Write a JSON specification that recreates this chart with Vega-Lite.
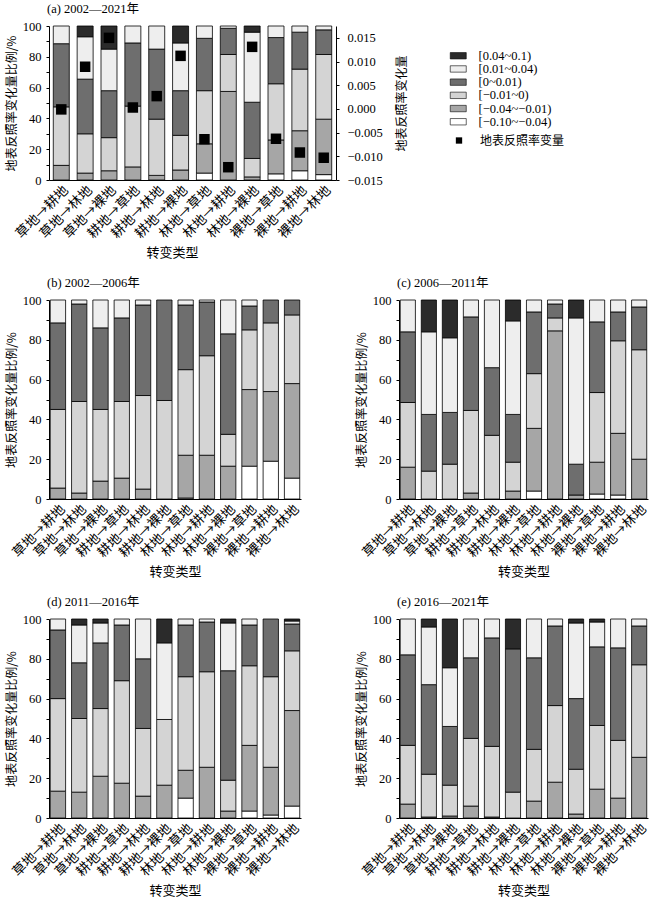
{
"$schema":"https://vega.github.io/schema/vega-lite/v6.json",
"padding":{"left":5,"top":2,"right":0,"bottom":0},
"config":{
 "view":{"stroke":null},
 "font":"Liberation Serif, Noto Sans CJK SC",
 "title":{"anchor":"start","frame":"group","fontSize":12.5,"fontWeight":"normal","font":"Liberation Serif, Noto Sans CJK SC","offset":5,"dx":-2,"color":"black"},
 "axis":{"domainColor":"black","tickColor":"black","labelColor":"black","titleColor":"black","labelFont":"Liberation Serif","labelFontSize":12.5,"titleFont":"Noto Sans CJK SC","titleFontSize":12,"titleFontWeight":"normal","grid":false,"tickSize":3,"labelPadding":5},
 "axisX":{"labelAngle":-45,"labelFont":"Noto Sans CJK SC","labelFontSize":13.5,"ticks":false,"titleFontSize":13,"titlePadding":6,"labelPadding":3},
 "legend":{"labelColor":"black"}
},
"resolve":{"scale":{"fill":"independent"}},
"spacing":16,
"datasets":{
"a":[
{"t":"草地→耕地","c":"[−0.04~−0.01)","k":2,"v":9.5},{"t":"草地→耕地","c":"[−0.01~0)","k":3,"v":38},{"t":"草地→耕地","c":"[0~0.01)","k":4,"v":41},{"t":"草地→耕地","c":"[0.01~0.04)","k":5,"v":11.5},
{"t":"草地→林地","c":"[−0.04~−0.01)","k":2,"v":4.5},{"t":"草地→林地","c":"[−0.01~0)","k":3,"v":25.5},{"t":"草地→林地","c":"[0~0.01)","k":4,"v":35.5},{"t":"草地→林地","c":"[0.01~0.04)","k":5,"v":27.5},{"t":"草地→林地","c":"[0.04~0.1)","k":6,"v":7},
{"t":"草地→裸地","c":"[−0.04~−0.01)","k":2,"v":6},{"t":"草地→裸地","c":"[−0.01~0)","k":3,"v":21.5},{"t":"草地→裸地","c":"[0~0.01)","k":4,"v":30.5},{"t":"草地→裸地","c":"[0.01~0.04)","k":5,"v":27},{"t":"草地→裸地","c":"[0.04~0.1)","k":6,"v":15},
{"t":"耕地→草地","c":"[−0.04~−0.01)","k":2,"v":8.5},{"t":"耕地→草地","c":"[−0.01~0)","k":3,"v":39.5},{"t":"耕地→草地","c":"[0~0.01)","k":4,"v":41},{"t":"耕地→草地","c":"[0.01~0.04)","k":5,"v":11},
{"t":"耕地→林地","c":"[−0.04~−0.01)","k":2,"v":3},{"t":"耕地→林地","c":"[−0.01~0)","k":3,"v":36.5},{"t":"耕地→林地","c":"[0~0.01)","k":4,"v":45.5},{"t":"耕地→林地","c":"[0.01~0.04)","k":5,"v":15},
{"t":"耕地→裸地","c":"[−0.04~−0.01)","k":2,"v":6.5},{"t":"耕地→裸地","c":"[−0.01~0)","k":3,"v":22.5},{"t":"耕地→裸地","c":"[0~0.01)","k":4,"v":29},{"t":"耕地→裸地","c":"[0.01~0.04)","k":5,"v":31},{"t":"耕地→裸地","c":"[0.04~0.1)","k":6,"v":11},
{"t":"林地→草地","c":"[−0.10~−0.04)","k":1,"v":4.5},{"t":"林地→草地","c":"[−0.04~−0.01)","k":2,"v":19},{"t":"林地→草地","c":"[−0.01~0)","k":3,"v":34.5},{"t":"林地→草地","c":"[0~0.01)","k":4,"v":34},{"t":"林地→草地","c":"[0.01~0.04)","k":5,"v":8},
{"t":"林地→耕地","c":"[−0.04~−0.01)","k":2,"v":57.5},{"t":"林地→耕地","c":"[−0.01~0)","k":3,"v":24},{"t":"林地→耕地","c":"[0~0.01)","k":4,"v":17},{"t":"林地→耕地","c":"[0.01~0.04)","k":5,"v":1.5},
{"t":"林地→裸地","c":"[−0.04~−0.01)","k":2,"v":2},{"t":"林地→裸地","c":"[−0.01~0)","k":3,"v":12},{"t":"林地→裸地","c":"[0~0.01)","k":4,"v":36.5},{"t":"林地→裸地","c":"[0.01~0.04)","k":5,"v":45.5},{"t":"林地→裸地","c":"[0.04~0.1)","k":6,"v":4},
{"t":"裸地→草地","c":"[−0.10~−0.04)","k":1,"v":4},{"t":"裸地→草地","c":"[−0.04~−0.01)","k":2,"v":22},{"t":"裸地→草地","c":"[−0.01~0)","k":3,"v":36.5},{"t":"裸地→草地","c":"[0~0.01)","k":4,"v":30},{"t":"裸地→草地","c":"[0.01~0.04)","k":5,"v":7.5},
{"t":"裸地→耕地","c":"[−0.10~−0.04)","k":1,"v":6},{"t":"裸地→耕地","c":"[−0.04~−0.01)","k":2,"v":26},{"t":"裸地→耕地","c":"[−0.01~0)","k":3,"v":40},{"t":"裸地→耕地","c":"[0~0.01)","k":4,"v":24},{"t":"裸地→耕地","c":"[0.01~0.04)","k":5,"v":4},
{"t":"裸地→林地","c":"[−0.10~−0.04)","k":1,"v":3.5},{"t":"裸地→林地","c":"[−0.04~−0.01)","k":2,"v":36},{"t":"裸地→林地","c":"[−0.01~0)","k":3,"v":42},{"t":"裸地→林地","c":"[0~0.01)","k":4,"v":16},{"t":"裸地→林地","c":"[0.01~0.04)","k":5,"v":2.5}
],
"b":[
{"t":"草地→耕地","c":"[−0.04~−0.01)","k":2,"v":5.5},{"t":"草地→耕地","c":"[−0.01~0)","k":3,"v":39.5},{"t":"草地→耕地","c":"[0~0.01)","k":4,"v":43.5},{"t":"草地→耕地","c":"[0.01~0.04)","k":5,"v":11.5},
{"t":"草地→林地","c":"[−0.04~−0.01)","k":2,"v":3},{"t":"草地→林地","c":"[−0.01~0)","k":3,"v":46},{"t":"草地→林地","c":"[0~0.01)","k":4,"v":49},{"t":"草地→林地","c":"[0.01~0.04)","k":5,"v":2},
{"t":"草地→裸地","c":"[−0.04~−0.01)","k":2,"v":9},{"t":"草地→裸地","c":"[−0.01~0)","k":3,"v":36},{"t":"草地→裸地","c":"[0~0.01)","k":4,"v":41},{"t":"草地→裸地","c":"[0.01~0.04)","k":5,"v":14},
{"t":"耕地→草地","c":"[−0.04~−0.01)","k":2,"v":10.5},{"t":"耕地→草地","c":"[−0.01~0)","k":3,"v":38.5},{"t":"耕地→草地","c":"[0~0.01)","k":4,"v":42},{"t":"耕地→草地","c":"[0.01~0.04)","k":5,"v":9},
{"t":"耕地→林地","c":"[−0.04~−0.01)","k":2,"v":5},{"t":"耕地→林地","c":"[−0.01~0)","k":3,"v":47},{"t":"耕地→林地","c":"[0~0.01)","k":4,"v":45.5},{"t":"耕地→林地","c":"[0.01~0.04)","k":5,"v":2.5},
{"t":"耕地→裸地","c":"[−0.01~0)","k":3,"v":49.5},{"t":"耕地→裸地","c":"[0~0.01)","k":4,"v":50.5},
{"t":"林地→草地","c":"[−0.10~−0.04)","k":1,"v":0.5},{"t":"林地→草地","c":"[−0.04~−0.01)","k":2,"v":21.5},{"t":"林地→草地","c":"[−0.01~0)","k":3,"v":43},{"t":"林地→草地","c":"[0~0.01)","k":4,"v":32.5},{"t":"林地→草地","c":"[0.01~0.04)","k":5,"v":2.5},
{"t":"林地→耕地","c":"[−0.04~−0.01)","k":2,"v":22},{"t":"林地→耕地","c":"[−0.01~0)","k":3,"v":50},{"t":"林地→耕地","c":"[0~0.01)","k":4,"v":27},{"t":"林地→耕地","c":"[0.01~0.04)","k":5,"v":1},
{"t":"林地→裸地","c":"[−0.04~−0.01)","k":2,"v":16.5},{"t":"林地→裸地","c":"[−0.01~0)","k":3,"v":16},{"t":"林地→裸地","c":"[0~0.01)","k":4,"v":50.5},{"t":"林地→裸地","c":"[0.01~0.04)","k":5,"v":17},
{"t":"裸地→草地","c":"[−0.10~−0.04)","k":1,"v":16.5},{"t":"裸地→草地","c":"[−0.04~−0.01)","k":2,"v":38.5},{"t":"裸地→草地","c":"[−0.01~0)","k":3,"v":30},{"t":"裸地→草地","c":"[0~0.01)","k":4,"v":12},{"t":"裸地→草地","c":"[0.01~0.04)","k":5,"v":3},
{"t":"裸地→耕地","c":"[−0.10~−0.04)","k":1,"v":19},{"t":"裸地→耕地","c":"[−0.04~−0.01)","k":2,"v":35},{"t":"裸地→耕地","c":"[−0.01~0)","k":3,"v":34.5},{"t":"裸地→耕地","c":"[0~0.01)","k":4,"v":11.5},
{"t":"裸地→林地","c":"[−0.10~−0.04)","k":1,"v":10.5},{"t":"裸地→林地","c":"[−0.04~−0.01)","k":2,"v":47.5},{"t":"裸地→林地","c":"[−0.01~0)","k":3,"v":34.5},{"t":"裸地→林地","c":"[0~0.01)","k":4,"v":7.5}
],
"c":[
{"t":"草地→耕地","c":"[−0.04~−0.01)","k":2,"v":16},{"t":"草地→耕地","c":"[−0.01~0)","k":3,"v":32.5},{"t":"草地→耕地","c":"[0~0.01)","k":4,"v":35.5},{"t":"草地→耕地","c":"[0.01~0.04)","k":5,"v":16},
{"t":"草地→林地","c":"[−0.01~0)","k":3,"v":14},{"t":"草地→林地","c":"[0~0.01)","k":4,"v":28.5},{"t":"草地→林地","c":"[0.01~0.04)","k":5,"v":41.5},{"t":"草地→林地","c":"[0.04~0.1)","k":6,"v":16},
{"t":"草地→裸地","c":"[−0.01~0)","k":3,"v":17.5},{"t":"草地→裸地","c":"[0~0.01)","k":4,"v":26},{"t":"草地→裸地","c":"[0.01~0.04)","k":5,"v":37.5},{"t":"草地→裸地","c":"[0.04~0.1)","k":6,"v":19},
{"t":"耕地→草地","c":"[−0.04~−0.01)","k":2,"v":3},{"t":"耕地→草地","c":"[−0.01~0)","k":3,"v":41.5},{"t":"耕地→草地","c":"[0~0.01)","k":4,"v":47},{"t":"耕地→草地","c":"[0.01~0.04)","k":5,"v":8.5},
{"t":"耕地→林地","c":"[−0.01~0)","k":3,"v":32},{"t":"耕地→林地","c":"[0~0.01)","k":4,"v":34},{"t":"耕地→林地","c":"[0.01~0.04)","k":5,"v":34},
{"t":"耕地→裸地","c":"[−0.04~−0.01)","k":2,"v":4},{"t":"耕地→裸地","c":"[−0.01~0)","k":3,"v":14.5},{"t":"耕地→裸地","c":"[0~0.01)","k":4,"v":24},{"t":"耕地→裸地","c":"[0.01~0.04)","k":5,"v":47},{"t":"耕地→裸地","c":"[0.04~0.1)","k":6,"v":10.5},
{"t":"林地→草地","c":"[−0.10~−0.04)","k":1,"v":4},{"t":"林地→草地","c":"[−0.04~−0.01)","k":2,"v":31.5},{"t":"林地→草地","c":"[−0.01~0)","k":3,"v":27.5},{"t":"林地→草地","c":"[0~0.01)","k":4,"v":31},{"t":"林地→草地","c":"[0.01~0.04)","k":5,"v":6},
{"t":"林地→耕地","c":"[−0.04~−0.01)","k":2,"v":84.5},{"t":"林地→耕地","c":"[−0.01~0)","k":3,"v":6.5},{"t":"林地→耕地","c":"[0~0.01)","k":4,"v":7},{"t":"林地→耕地","c":"[0.01~0.04)","k":5,"v":2},
{"t":"林地→裸地","c":"[−0.04~−0.01)","k":2,"v":2},{"t":"林地→裸地","c":"[0~0.01)","k":4,"v":15.5},{"t":"林地→裸地","c":"[0.01~0.04)","k":5,"v":73.5},{"t":"林地→裸地","c":"[0.04~0.1)","k":6,"v":9},
{"t":"裸地→草地","c":"[−0.10~−0.04)","k":1,"v":2.5},{"t":"裸地→草地","c":"[−0.04~−0.01)","k":2,"v":16},{"t":"裸地→草地","c":"[−0.01~0)","k":3,"v":35},{"t":"裸地→草地","c":"[0~0.01)","k":4,"v":35.5},{"t":"裸地→草地","c":"[0.01~0.04)","k":5,"v":11},
{"t":"裸地→耕地","c":"[−0.10~−0.04)","k":1,"v":2},{"t":"裸地→耕地","c":"[−0.04~−0.01)","k":2,"v":31},{"t":"裸地→耕地","c":"[−0.01~0)","k":3,"v":46.5},{"t":"裸地→耕地","c":"[0~0.01)","k":4,"v":14.5},{"t":"裸地→耕地","c":"[0.01~0.04)","k":5,"v":6},
{"t":"裸地→林地","c":"[−0.04~−0.01)","k":2,"v":20},{"t":"裸地→林地","c":"[−0.01~0)","k":3,"v":55},{"t":"裸地→林地","c":"[0~0.01)","k":4,"v":21.5},{"t":"裸地→林地","c":"[0.01~0.04)","k":5,"v":3.5}
],
"d":[
{"t":"草地→耕地","c":"[−0.04~−0.01)","k":2,"v":13.5},{"t":"草地→耕地","c":"[−0.01~0)","k":3,"v":46.5},{"t":"草地→耕地","c":"[0~0.01)","k":4,"v":34.5},{"t":"草地→耕地","c":"[0.01~0.04)","k":5,"v":5.5},
{"t":"草地→林地","c":"[−0.04~−0.01)","k":2,"v":13},{"t":"草地→林地","c":"[−0.01~0)","k":3,"v":37},{"t":"草地→林地","c":"[0~0.01)","k":4,"v":28},{"t":"草地→林地","c":"[0.01~0.04)","k":5,"v":19},{"t":"草地→林地","c":"[0.04~0.1)","k":6,"v":3},
{"t":"草地→裸地","c":"[−0.04~−0.01)","k":2,"v":21},{"t":"草地→裸地","c":"[−0.01~0)","k":3,"v":34},{"t":"草地→裸地","c":"[0~0.01)","k":4,"v":33},{"t":"草地→裸地","c":"[0.01~0.04)","k":5,"v":10},{"t":"草地→裸地","c":"[0.04~0.1)","k":6,"v":2},
{"t":"耕地→草地","c":"[−0.04~−0.01)","k":2,"v":17.5},{"t":"耕地→草地","c":"[−0.01~0)","k":3,"v":51.5},{"t":"耕地→草地","c":"[0~0.01)","k":4,"v":28},{"t":"耕地→草地","c":"[0.01~0.04)","k":5,"v":3},
{"t":"耕地→林地","c":"[−0.04~−0.01)","k":2,"v":11},{"t":"耕地→林地","c":"[−0.01~0)","k":3,"v":34},{"t":"耕地→林地","c":"[0~0.01)","k":4,"v":35},{"t":"耕地→林地","c":"[0.01~0.04)","k":5,"v":20},
{"t":"耕地→裸地","c":"[−0.04~−0.01)","k":2,"v":16.5},{"t":"耕地→裸地","c":"[−0.01~0)","k":3,"v":33},{"t":"耕地→裸地","c":"[0.01~0.04)","k":5,"v":38.5},{"t":"耕地→裸地","c":"[0.04~0.1)","k":6,"v":12},
{"t":"林地→草地","c":"[−0.10~−0.04)","k":1,"v":10},{"t":"林地→草地","c":"[−0.04~−0.01)","k":2,"v":14},{"t":"林地→草地","c":"[−0.01~0)","k":3,"v":47},{"t":"林地→草地","c":"[0~0.01)","k":4,"v":26},{"t":"林地→草地","c":"[0.01~0.04)","k":5,"v":3},
{"t":"林地→耕地","c":"[−0.04~−0.01)","k":2,"v":25.5},{"t":"林地→耕地","c":"[−0.01~0)","k":3,"v":48},{"t":"林地→耕地","c":"[0~0.01)","k":4,"v":25},{"t":"林地→耕地","c":"[0.01~0.04)","k":5,"v":1.5},
{"t":"林地→裸地","c":"[−0.04~−0.01)","k":2,"v":3.5},{"t":"林地→裸地","c":"[−0.01~0)","k":3,"v":15.5},{"t":"林地→裸地","c":"[0~0.01)","k":4,"v":55},{"t":"林地→裸地","c":"[0.01~0.04)","k":5,"v":24},{"t":"林地→裸地","c":"[0.04~0.1)","k":6,"v":2},
{"t":"裸地→草地","c":"[−0.10~−0.04)","k":1,"v":3.5},{"t":"裸地→草地","c":"[−0.04~−0.01)","k":2,"v":33},{"t":"裸地→草地","c":"[−0.01~0)","k":3,"v":40},{"t":"裸地→草地","c":"[0~0.01)","k":4,"v":20.5},{"t":"裸地→草地","c":"[0.01~0.04)","k":5,"v":3},
{"t":"裸地→耕地","c":"[−0.10~−0.04)","k":1,"v":1.5},{"t":"裸地→耕地","c":"[−0.04~−0.01)","k":2,"v":24},{"t":"裸地→耕地","c":"[−0.01~0)","k":3,"v":45.5},{"t":"裸地→耕地","c":"[0~0.01)","k":4,"v":29},
{"t":"裸地→林地","c":"[−0.10~−0.04)","k":1,"v":6},{"t":"裸地→林地","c":"[−0.04~−0.01)","k":2,"v":48},{"t":"裸地→林地","c":"[−0.01~0)","k":3,"v":30},{"t":"裸地→林地","c":"[0~0.01)","k":4,"v":13.5},{"t":"裸地→林地","c":"[0.01~0.04)","k":5,"v":1.5},{"t":"裸地→林地","c":"[0.04~0.1)","k":6,"v":1}
],
"e":[
{"t":"草地→耕地","c":"[−0.04~−0.01)","k":2,"v":7},{"t":"草地→耕地","c":"[−0.01~0)","k":3,"v":29.5},{"t":"草地→耕地","c":"[0~0.01)","k":4,"v":45.5},{"t":"草地→耕地","c":"[0.01~0.04)","k":5,"v":18},
{"t":"草地→林地","c":"[−0.04~−0.01)","k":2,"v":0.5},{"t":"草地→林地","c":"[−0.01~0)","k":3,"v":21.5},{"t":"草地→林地","c":"[0~0.01)","k":4,"v":45},{"t":"草地→林地","c":"[0.01~0.04)","k":5,"v":29},{"t":"草地→林地","c":"[0.04~0.1)","k":6,"v":4},
{"t":"草地→裸地","c":"[−0.04~−0.01)","k":2,"v":1},{"t":"草地→裸地","c":"[−0.01~0)","k":3,"v":15.5},{"t":"草地→裸地","c":"[0~0.01)","k":4,"v":29.5},{"t":"草地→裸地","c":"[0.01~0.04)","k":5,"v":29.5},{"t":"草地→裸地","c":"[0.04~0.1)","k":6,"v":24.5},
{"t":"耕地→草地","c":"[−0.04~−0.01)","k":2,"v":6},{"t":"耕地→草地","c":"[−0.01~0)","k":3,"v":34},{"t":"耕地→草地","c":"[0~0.01)","k":4,"v":40.5},{"t":"耕地→草地","c":"[0.01~0.04)","k":5,"v":19.5},
{"t":"耕地→林地","c":"[−0.04~−0.01)","k":2,"v":0.5},{"t":"耕地→林地","c":"[−0.01~0)","k":3,"v":35.5},{"t":"耕地→林地","c":"[0~0.01)","k":4,"v":54.5},{"t":"耕地→林地","c":"[0.01~0.04)","k":5,"v":9.5},
{"t":"耕地→裸地","c":"[−0.01~0)","k":3,"v":13},{"t":"耕地→裸地","c":"[0~0.01)","k":4,"v":72},{"t":"耕地→裸地","c":"[0.04~0.1)","k":6,"v":15},
{"t":"林地→草地","c":"[−0.04~−0.01)","k":2,"v":8.5},{"t":"林地→草地","c":"[−0.01~0)","k":3,"v":26},{"t":"林地→草地","c":"[0~0.01)","k":4,"v":46},{"t":"林地→草地","c":"[0.01~0.04)","k":5,"v":19.5},
{"t":"林地→耕地","c":"[−0.04~−0.01)","k":2,"v":18},{"t":"林地→耕地","c":"[−0.01~0)","k":3,"v":38.5},{"t":"林地→耕地","c":"[0~0.01)","k":4,"v":40},{"t":"林地→耕地","c":"[0.01~0.04)","k":5,"v":3.5},
{"t":"林地→裸地","c":"[−0.04~−0.01)","k":2,"v":2},{"t":"林地→裸地","c":"[−0.01~0)","k":3,"v":22.5},{"t":"林地→裸地","c":"[0~0.01)","k":4,"v":35.5},{"t":"林地→裸地","c":"[0.01~0.04)","k":5,"v":38},{"t":"林地→裸地","c":"[0.04~0.1)","k":6,"v":2},
{"t":"裸地→草地","c":"[−0.04~−0.01)","k":2,"v":14.5},{"t":"裸地→草地","c":"[−0.01~0)","k":3,"v":32},{"t":"裸地→草地","c":"[0~0.01)","k":4,"v":39.5},{"t":"裸地→草地","c":"[0.01~0.04)","k":5,"v":12.5},{"t":"裸地→草地","c":"[0.04~0.1)","k":6,"v":1.5},
{"t":"裸地→耕地","c":"[−0.04~−0.01)","k":2,"v":10},{"t":"裸地→耕地","c":"[−0.01~0)","k":3,"v":29},{"t":"裸地→耕地","c":"[0~0.01)","k":4,"v":46.5},{"t":"裸地→耕地","c":"[0.01~0.04)","k":5,"v":14.5},
{"t":"裸地→林地","c":"[−0.04~−0.01)","k":2,"v":30.5},{"t":"裸地→林地","c":"[−0.01~0)","k":3,"v":46.5},{"t":"裸地→林地","c":"[0~0.01)","k":4,"v":19.5},{"t":"裸地→林地","c":"[0.01~0.04)","k":5,"v":3.5}
],
"pts":[
{"t":"草地→耕地","v":-0.0001,"s":"地表反照率变量"},{"t":"草地→林地","v":0.0089,"s":"地表反照率变量"},{"t":"草地→裸地","v":0.015,"s":"地表反照率变量"},{"t":"耕地→草地","v":0.0003,"s":"地表反照率变量"},{"t":"耕地→林地","v":0.0027,"s":"地表反照率变量"},{"t":"耕地→裸地","v":0.0112,"s":"地表反照率变量"},{"t":"林地→草地","v":-0.0064,"s":"地表反照率变量"},{"t":"林地→耕地","v":-0.0123,"s":"地表反照率变量"},{"t":"林地→裸地","v":0.0131,"s":"地表反照率变量"},{"t":"裸地→草地","v":-0.0063,"s":"地表反照率变量"},{"t":"裸地→耕地","v":-0.0092,"s":"地表反照率变量"},{"t":"裸地→林地","v":-0.0103,"s":"地表反照率变量"}
]
},
"vconcat":[
{
 "title":{"text":"(a) 2002—2021年"},
 "width":287,"height":154,
 "resolve":{"scale":{"y":"independent"}},
 "layer":[
  {
   "data":{"name":"a"},
   "mark":{"type":"bar","stroke":"black","strokeWidth":0.8},
   "encoding":{
    "x":{"field":"t","type":"nominal","sort":["草地→耕地","草地→林地","草地→裸地","耕地→草地","耕地→林地","耕地→裸地","林地→草地","林地→耕地","林地→裸地","裸地→草地","裸地→耕地","裸地→林地"],"scale":{"paddingInner":0.33,"paddingOuter":0.18},"axis":{"title":"转变类型","titleX":123}},
    "y":{"field":"v","type":"quantitative","stack":"zero","scale":{"domain":[0,100]},"axis":{"title":"地表反照率变化量比例/%","values":[0,10,20,30,40,50,60,70,80,90,100],"labelExpr":"datum.value % 20 === 0 ? datum.label : ''"}},
    "fill":{"field":"c","type":"nominal","scale":{"domain":["[0.04~0.1)","[0.01~0.04)","[0~0.01)","[−0.01~0)","[−0.04~−0.01)","[−0.10~−0.04)"],"range":["#2b2b2b","#eeeeee","#6e6e6e","#d4d4d4","#a6a6a6","#ffffff"]},"legend":{"orient":"none","legendX":403,"legendY":23.5,"title":null,"symbolType":"M-2,-0.8H2V0.8H-2Z","symbolSize":64,"symbolStrokeColor":"black","symbolStrokeWidth":0.6,"labelFont":"Liberation Serif","labelFontSize":12.5,"labelOffset":14,"rowPadding":0.2}},
    "order":{"field":"k","type":"quantitative"}
   }
  },
  {
   "data":{"name":"pts"},
   "mark":{"type":"point","filled":true,"color":"black","size":110,"opacity":1},
   "encoding":{
    "x":{"field":"t","type":"nominal","sort":["草地→耕地","草地→林地","草地→裸地","耕地→草地","耕地→林地","耕地→裸地","林地→草地","林地→耕地","林地→裸地","裸地→草地","裸地→耕地","裸地→林地"]},
    "y":{"field":"v","type":"quantitative","scale":{"domain":[-0.015,0.0175],"nice":false,"zero":false},"axis":{"orient":"right","title":"地表反照率变化量","titleAngle":270,"titleBaseline":"top","titlePadding":14,"values":[-0.015,-0.01,-0.005,0,0.005,0.01,0.015],"format":".3f","labelPadding":8}},
    "shape":{"field":"s","type":"nominal","scale":{"range":["square"]},"legend":{"orient":"none","legendX":404,"legendY":108.5,"title":null,"symbolSize":40,"symbolFillColor":"black","symbolStrokeColor":"black","labelFont":"Noto Sans CJK SC","labelFontSize":12,"labelOffset":15}}
   }
  }
 ]
},
{
 "spacing":53,
 "hconcat":[
  {
   "title":{"text":"(b) 2002—2006年"},
   "width":252,"height":199,
   "data":{"name":"b"},
   "mark":{"type":"bar","stroke":"black","strokeWidth":0.8},
   "encoding":{
    "x":{"field":"t","type":"nominal","sort":["草地→耕地","草地→林地","草地→裸地","耕地→草地","耕地→林地","耕地→裸地","林地→草地","林地→耕地","林地→裸地","裸地→草地","裸地→耕地","裸地→林地"],"scale":{"paddingInner":0.28,"paddingOuter":0.06},"axis":{"title":"转变类型"}},
    "y":{"field":"v","type":"quantitative","stack":"zero","scale":{"domain":[0,100]},"axis":{"title":"地表反照率变化量比例/%","values":[0,10,20,30,40,50,60,70,80,90,100],"labelExpr":"datum.value % 20 === 0 ? datum.label : ''"}},
    "fill":{"field":"c","type":"nominal","scale":{"domain":["[0.04~0.1)","[0.01~0.04)","[0~0.01)","[−0.01~0)","[−0.04~−0.01)","[−0.10~−0.04)"],"range":["#2b2b2b","#eeeeee","#6e6e6e","#d4d4d4","#a6a6a6","#ffffff"]},"legend":null},
    "order":{"field":"k","type":"quantitative"}
   }
  },
  {
   "title":{"text":"(c) 2006—2011年"},
   "width":249,"height":199,
   "data":{"name":"c"},
   "mark":{"type":"bar","stroke":"black","strokeWidth":0.8},
   "encoding":{
    "x":{"field":"t","type":"nominal","sort":["草地→耕地","草地→林地","草地→裸地","耕地→草地","耕地→林地","耕地→裸地","林地→草地","林地→耕地","林地→裸地","裸地→草地","裸地→耕地","裸地→林地"],"scale":{"paddingInner":0.28,"paddingOuter":0.06},"axis":{"title":"转变类型"}},
    "y":{"field":"v","type":"quantitative","stack":"zero","scale":{"domain":[0,100]},"axis":{"title":"地表反照率变化量比例/%","values":[0,10,20,30,40,50,60,70,80,90,100],"labelExpr":"datum.value % 20 === 0 ? datum.label : ''"}},
    "fill":{"field":"c","type":"nominal","scale":{"domain":["[0.04~0.1)","[0.01~0.04)","[0~0.01)","[−0.01~0)","[−0.04~−0.01)","[−0.10~−0.04)"],"range":["#2b2b2b","#eeeeee","#6e6e6e","#d4d4d4","#a6a6a6","#ffffff"]},"legend":null},
    "order":{"field":"k","type":"quantitative"}
   }
  }
 ]
},
{
 "spacing":53,
 "hconcat":[
  {
   "title":{"text":"(d) 2011—2016年"},
   "width":252,"height":199,
   "data":{"name":"d"},
   "mark":{"type":"bar","stroke":"black","strokeWidth":0.8},
   "encoding":{
    "x":{"field":"t","type":"nominal","sort":["草地→耕地","草地→林地","草地→裸地","耕地→草地","耕地→林地","耕地→裸地","林地→草地","林地→耕地","林地→裸地","裸地→草地","裸地→耕地","裸地→林地"],"scale":{"paddingInner":0.28,"paddingOuter":0.06},"axis":{"title":"转变类型"}},
    "y":{"field":"v","type":"quantitative","stack":"zero","scale":{"domain":[0,100]},"axis":{"title":"地表反照率变化量比例/%","values":[0,10,20,30,40,50,60,70,80,90,100],"labelExpr":"datum.value % 20 === 0 ? datum.label : ''"}},
    "fill":{"field":"c","type":"nominal","scale":{"domain":["[0.04~0.1)","[0.01~0.04)","[0~0.01)","[−0.01~0)","[−0.04~−0.01)","[−0.10~−0.04)"],"range":["#2b2b2b","#eeeeee","#6e6e6e","#d4d4d4","#a6a6a6","#ffffff"]},"legend":null},
    "order":{"field":"k","type":"quantitative"}
   }
  },
  {
   "title":{"text":"(e) 2016—2021年"},
   "width":249,"height":199,
   "data":{"name":"e"},
   "mark":{"type":"bar","stroke":"black","strokeWidth":0.8},
   "encoding":{
    "x":{"field":"t","type":"nominal","sort":["草地→耕地","草地→林地","草地→裸地","耕地→草地","耕地→林地","耕地→裸地","林地→草地","林地→耕地","林地→裸地","裸地→草地","裸地→耕地","裸地→林地"],"scale":{"paddingInner":0.28,"paddingOuter":0.06},"axis":{"title":"转变类型"}},
    "y":{"field":"v","type":"quantitative","stack":"zero","scale":{"domain":[0,100]},"axis":{"title":"地表反照率变化量比例/%","values":[0,10,20,30,40,50,60,70,80,90,100],"labelExpr":"datum.value % 20 === 0 ? datum.label : ''"}},
    "fill":{"field":"c","type":"nominal","scale":{"domain":["[0.04~0.1)","[0.01~0.04)","[0~0.01)","[−0.01~0)","[−0.04~−0.01)","[−0.10~−0.04)"],"range":["#2b2b2b","#eeeeee","#6e6e6e","#d4d4d4","#a6a6a6","#ffffff"]},"legend":null},
    "order":{"field":"k","type":"quantitative"}
   }
  }
 ]
}
]
}
